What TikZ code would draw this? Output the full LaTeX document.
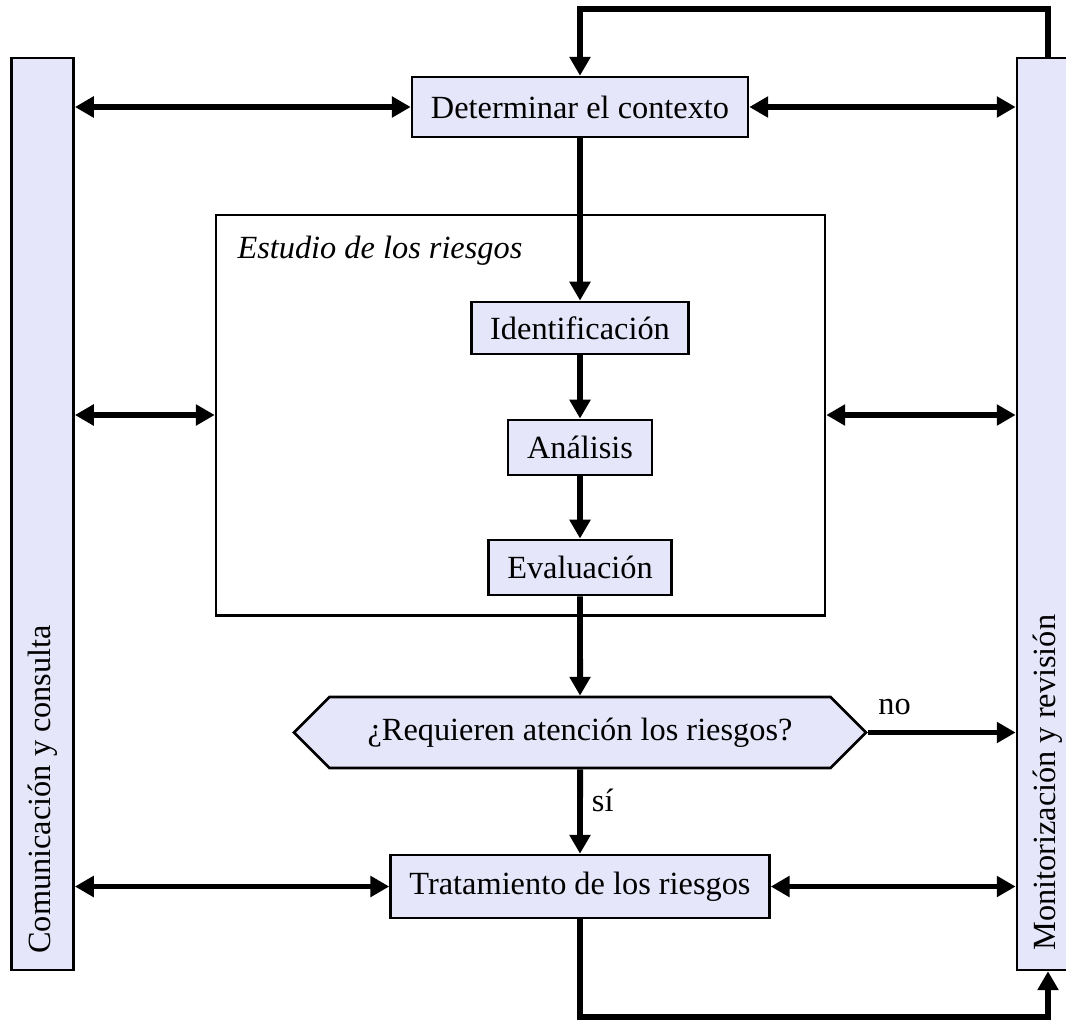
\documentclass[tikz,border=0pt]{standalone}
\usepackage{fontspec}
\setmainfont{Liberation Serif}
\usetikzlibrary{arrows.meta,shapes.symbols,calc}
\definecolor{boxfill}{RGB}{230,230,250}
\begin{document}
\begin{tikzpicture}[x=1.304cm, y=1.304cm, >={Triangle[length=7pt,width=7.5pt]}]
\tikzstyle{every node}=[font=\fontsize{12}{14}\selectfont]
\tikzstyle{stepbox}=[draw, line width=1pt, fill=boxfill, inner xsep=7pt, inner ysep=0pt, minimum height=0.72cm]
\tikzstyle{sidebar}=[draw, line width=1pt, fill=boxfill, minimum width=0.81cm, minimum height=11.89cm, inner sep=0pt]
\tikzstyle{sidelabel}=[rotate=90, anchor=west, inner sep=0pt]
\tikzstyle{flow}=[line width=2.2pt]
\useasboundingbox (0,0) rectangle (10.66,-10.20);
% side bars
\node[sidebar](com) at (0.425,-5.14) {};
\node[sidebar](mon) at (10.48,-5.14) {};
\node[sidelabel](comlabel) at ($(com.south)+(0,0.17)$) {Comunicación y consulta};
\node[sidelabel](monlabel) at ($(mon.south)+(0,0.20)$) {Monitorización y revisión};
% risk study frame
\node[draw, line width=1pt, minimum width=7.94cm, minimum height=5.22cm](study) at (5.205,-4.15) {};
\node[anchor=base west, inner sep=0pt, font=\fontsize{12}{14}\selectfont\itshape](studylabel) at (2.37,-2.58) {Estudio de los riesgos};
% steps
\node[stepbox, minimum height=0.78cm](ctx) at (5.80,-1.07) {Determinar el contexto};
\node[stepbox, minimum height=0.68cm](ident) at (5.80,-3.28) {Identificación};
\node[stepbox](anal) at (5.80,-4.475) {Análisis};
\node[stepbox](eval) at (5.80,-5.675) {Evaluación};
\node[stepbox, shape=signal, signal to=west and east, signal pointer angle=90, minimum width=7.46cm, minimum height=0.926cm](ask) at (5.80,-7.325) {¿Requieren atención los riesgos?};
\node[stepbox, minimum height=0.82cm](trat) at (5.80,-8.865) {Tratamiento de los riesgos};
% connectors
\draw[flow,<->] (com.east |- ctx.west) -- (ctx.west);
\draw[flow,<->] (ctx.east) -- (mon.west |- ctx.east);
\draw[flow,<->] (com.east |- study.west) -- (study.west);
\draw[flow,<->] (study.east) -- (mon.west |- study.east);
\draw[flow,->] (mon.north) -- ++(0,0.48) -| (ctx.north);
\draw[flow,->] (ctx) -- (ident);
\draw[flow,->] (ident) -- (anal);
\draw[flow,->] (anal) -- (eval);
\draw[flow,->] (eval) -- (ask);
\draw[flow,->] (ask) -- node[right, pos=0.37]{sí} (trat);
\draw[flow,->] (ask.east) -- node[above, pos=0.18, yshift=2pt]{no} (mon.west |- ask.east);
\draw[flow,<->] (com.east |- trat.west) -- (trat.west);
\draw[flow,<->] (trat.east) -- (mon.west |- trat.east);
\draw[flow,->] (trat.south) -- ++(0,-0.98) -| (mon.south);
\end{tikzpicture}
\end{document}
